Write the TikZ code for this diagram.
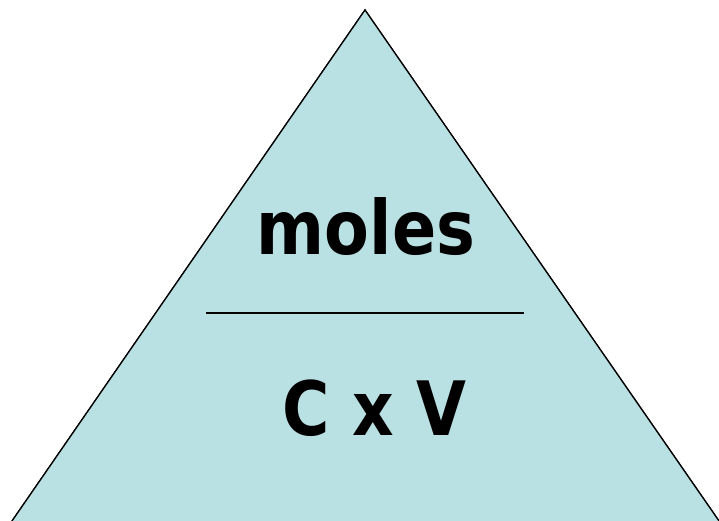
\documentclass[tikz,border=0pt]{standalone}
\usepackage{fontspec}
\setmainfont{DejaVu Sans}
\definecolor{tri}{RGB}{185,224,227}
\begin{document}
\begin{tikzpicture}[x=1pt,y=1pt,
  lbl/.style={inner sep=0pt,anchor=base,font=\bfseries\fontsize{75}{80}\selectfont}]
\useasboundingbox (0,0) rectangle (719,521);
\coordinate (apex) at (365,511);
\coordinate (bl) at (12,0);
\coordinate (br) at (719,0);
\filldraw[fill=tri,draw=black,line width=1.3pt,line join=miter] (bl) -- (apex) -- (br);
\fill[tri] (bl) -- (br) -- (apex) -- cycle;
\draw[line width=1.3pt] (bl) -- (apex) -- (br);
\coordinate (la) at (206,208);
\coordinate (lb) at (524,208);
\draw[line width=2pt] (la) -- (lb);
\node[lbl] (moles) at (366,266) {\scalebox{0.87}[1]{moles}};
\node[lbl] (cv) at (374.5,85) {\scalebox{0.86}[1]{C x V}};
\end{tikzpicture}
\end{document}
